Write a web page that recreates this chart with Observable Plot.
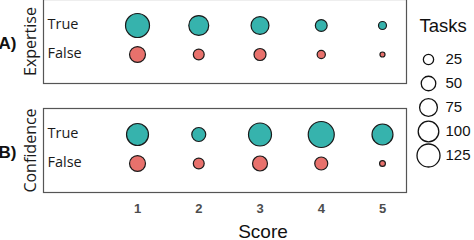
<!DOCTYPE html>
<html>
<head>
<meta charset="utf-8">
<script src="https://cdn.jsdelivr.net/npm/d3@7"></script>
<script src="https://cdn.jsdelivr.net/npm/@observablehq/plot@0.6"></script>
<style>
  body { margin: 0; background: #fff; }
  #wrap { position: relative; width: 474px; height: 240px; overflow: hidden; }
  #legend { position: absolute; left: 406px; top: 0; }
  #main { position: absolute; left: 0; top: 0; }
</style>
</head>
<body>
<div id="wrap"><div id="main"></div><div id="legend"></div></div>
<script>
// ---- data ----
const scores = [1, 2, 3, 4, 5];
const panels = ["Expertise", "Confidence"];
const panelTags = ["A)", "B)"];
const groups = ["True", "False"];
const expertiseTrue = [136, 94, 76, 33, 15];
const expertiseFalse = [60, 28, 34, 16, 6];
const confidenceTrue = [114, 46, 125, 160, 104];
const confidenceFalse = [60, 28, 53, 40, 8];
const legendValues = [25, 50, 75, 100, 125];
const legendTitle = "Tasks";
const xTitle = "Score";

const colors = { True: "#36b3ad", False: "#e8716c" };

const series = [
  { panel: "Expertise", group: "True", values: expertiseTrue },
  { panel: "Expertise", group: "False", values: expertiseFalse },
  { panel: "Confidence", group: "True", values: confidenceTrue },
  { panel: "Confidence", group: "False", values: confidenceFalse }
];
const rows = series.flatMap(s => s.values.map((v, i) => ({ panel: s.panel, group: s.group, score: scores[i], tasks: v })));
const panelRows = panels.map((p, i) => ({ panel: p, tag: panelTags[i] }));

const rScale = { type: "sqrt", domain: [0, 125], range: [0, 11.5] };

const main = Plot.plot({
  width: 474,
  height: 240,
  marginLeft: 43,
  marginRight: 68,
  marginTop: -1,
  marginBottom: 47,
  style: { background: "transparent" },
  x: { domain: [-0.535, 5.392] },
  y: { type: "point", domain: groups, padding: 0, insetTop: 25.5, insetBottom: 29.5 },
  fy: { domain: panels, paddingInner: 0.2283, paddingOuter: 0, axis: null, label: null },
  r: rScale,
  marks: [
    Plot.frame({ stroke: "#555", strokeWidth: 1.2 }),
    Plot.axisY({ tickSize: 0, tickPadding: 0, textAnchor: "start", dx: 4, dy: -1.5, fontSize: 14.5, fontFamily: "Open Sans", fill: "#1a1a1a", label: null }),
    Plot.axisX({ ticks: scores, tickFormat: d3.format("d"), tickSize: 0, tickPadding: 11, fontSize: 13, fontWeight: "bold", fontFamily: "Liberation Sans", fill: "#4d4d4d", label: null }),
    Plot.text(panelRows, { fy: "panel", text: "panel", frameAnchor: "left", textAnchor: "middle", rotate: -90, dx: -13, fontSize: 16, fontFamily: "Open Sans", fill: "#1a1a1a" }),
    Plot.text(panelRows, { fy: "panel", text: "tag", frameAnchor: "left", textAnchor: "end", dx: -27, dy: 2.5, fontSize: 17, fontWeight: "bold", fontFamily: "Liberation Sans", fill: "#111" }),
    Plot.text([xTitle], { fy: () => "Confidence", text: d => d, frameAnchor: "bottom", textAnchor: "middle", dx: 38, dy: 45, fontSize: 19, fontFamily: "Liberation Sans", fill: "#111" }),
    Plot.dot(rows, { x: "score", y: "group", fy: "panel", r: "tasks", fill: d => colors[d.group], stroke: "#1a1a1a", strokeWidth: 1.2 })
  ]
});
document.getElementById("main").appendChild(main);

const legend = Plot.plot({
  width: 68,
  height: 200,
  margin: 0,
  style: { background: "transparent", overflow: "visible" },
  y: { type: "point", domain: legendValues, range: [45, 169], axis: null },
  r: { type: "sqrt", domain: [0, 125], range: [0, 11.5] },
  marks: [
    Plot.text([legendTitle], { text: d => d, frameAnchor: "top-left", textAnchor: "start", dx: 13, dy: 18, fontSize: 18.5, fontFamily: "Liberation Sans", fill: "#111" }),
    Plot.dot(legendValues, { y: d => d, r: d => d, frameAnchor: "left", dx: 22, fill: "white", stroke: "#111", strokeWidth: 1.3 }),
    Plot.text(legendValues, { y: d => d, text: d => String(d), frameAnchor: "left", textAnchor: "start", dx: 39, fontSize: 15, fontFamily: "Liberation Sans", fill: "#111" })
  ]
});
document.getElementById("legend").appendChild(legend);
</script>
</body>
</html>
